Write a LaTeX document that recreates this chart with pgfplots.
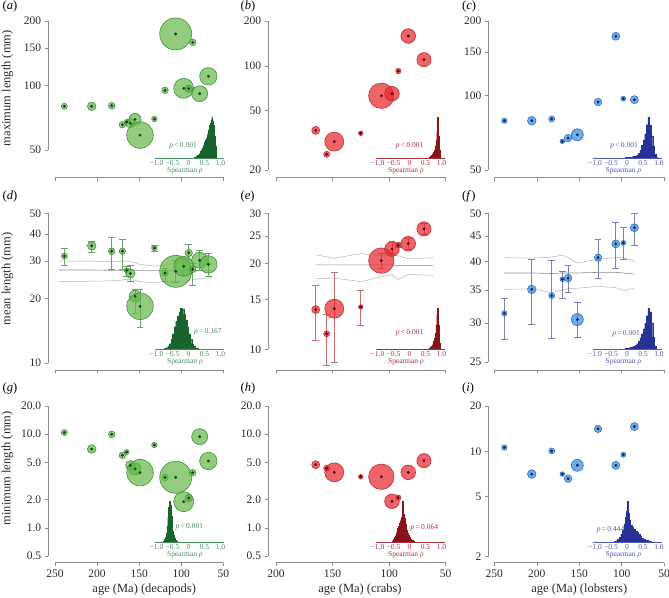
\documentclass[border=0pt]{standalone}
\usepackage{fontspec}
\setmainfont{Liberation Serif}
\usepackage{pgfplots}
\usepackage{pgfplotstable}
\pgfplotsset{compat=1.18}

\definecolor{axgray}{RGB}{140,140,140}
\definecolor{ticktext}{RGB}{40,40,40}
\definecolor{gfill}{RGB}{98,184,69}
\definecolor{gline}{RGB}{70,140,70}
\definecolor{gdot}{RGB}{15,70,25}
\definecolor{ghist}{RGB}{25,100,45}
\definecolor{gtext}{RGB}{70,140,90}
\definecolor{gbar}{RGB}{110,160,110}
\definecolor{rfill}{RGB}{231,34,41}
\definecolor{rline}{RGB}{190,45,55}
\definecolor{rdot}{RGB}{100,0,10}
\definecolor{rhist}{RGB}{135,20,25}
\definecolor{rtext}{RGB}{170,50,60}
\definecolor{rbar}{RGB}{200,110,110}
\definecolor{bfill}{RGB}{48,141,219}
\definecolor{bline}{RGB}{50,110,190}
\definecolor{bdot}{RGB}{20,30,110}
\definecolor{bhist}{RGB}{40,50,150}
\definecolor{btext}{RGB}{80,90,175}
\definecolor{bbar}{RGB}{120,130,180}
\definecolor{nullu}{RGB}{180,180,180}
\definecolor{nullm}{RGB}{140,140,140}

\newcommand{\tickfont}{\fontsize{11.5}{12}\selectfont}
\newcommand{\labfont}{\fontsize{12.5}{14}\selectfont}
\newcommand{\insfont}{\fontsize{7.5}{8}\selectfont}

% ---------- data (lengths in mm, ages in Ma, r = bubble radius) ----------
\pgfplotstableread{
age v r
238.9 80.0 3.0
206.4 80.0 4.3
182.6 80.5 3.3
170.0 65.6 3.2
164.8 67.6 2.5
160.5 66.7 4.7
154.9 69.5 6.0
149.0 58.7 13.3
132.0 69.8 2.7
119.3 95.0 3.3
106.6 174 16.0
97.1 97.0 10.0
91.1 96.6 3.7
86.4 159 3.3
78.1 91.6 8.0
67.8 110.4 8.7
}\tA
\pgfplotstableread{
age v r
164.9 36.9 4.0
155.2 25.5 3.0
148.5 31.0 9.5
125.1 35.3 2.3
106.9 63.0 12.7
97.5 65.0 7.3
91.9 92.3 2.7
83.1 158.6 7.3
69.2 110 7.1
}\tB
\pgfplotstableread{
age v r
238.2 79.1 2.7
205.9 79.1 4.3
182.4 80.4 3.0
169.9 65.3 2.3
163.1 67.3 3.8
152.2 69.4 6.0
127.8 94.1 3.7
106.9 173.5 4.0
98.0 97.1 2.5
85.0 96.2 4.0
}\tC
\pgfplotstableread{
age v lo hi r
238.9 31.6 28.6 34.3 3.0
206.4 35.3 33.0 37.2 4.3
182.6 33.3 27.4 38.9 3.3
170.0 33.3 27.4 37.9 3.2
164.8 27.1 25.3 28.3 2.5
160.5 26.2 24.2 28.5 4.7
154.9 20.5 17.0 22.0 6.0
149.0 18.4 14.6 22.2 13.3
132.0 34.5 33.4 35.6 2.7
119.3 26.3 24.1 27.6 3.3
106.6 26.8 23.9 30.2 16.0
97.1 28.3 25.6 30.7 10.0
91.1 32.7 30.2 35.7 3.7
86.4 27.4 23.1 29.2 3.3
78.1 30.2 27.2 33.5 8.0
67.8 28.9 25.5 32.4 8.7
}\tD
\pgfplotstableread{
age v lo hi r
164.9 13.8 10.8 16.8 4.0
155.2 11.35 8.8 13.3 3.0
148.5 13.9 9.05 18.7 9.5
125.1 14.1 12.2 16.1 2.3
106.9 20.5 19.3 21.7 12.7
97.5 22.5 21.8 23.9 7.3
91.9 23.2 22.8 23.7 2.7
83.1 23.5 22.4 24.5 7.3
69.2 26.5 25.3 27.7 7.1
}\tE
\pgfplotstableread{
age v lo hi r
238.2 31.4 27.8 33.6 2.7
205.9 35.1 29.9 40.3 4.3
182.4 34.1 27.9 40.2 3.0
169.9 36.8 33.6 38.2 2.3
163.1 37.0 34.7 39.2 3.8
152.2 30.5 28.1 33.0 6.0
127.8 40.7 36.9 44.4 3.7
106.9 43.4 38.8 48.1 4.0
98.0 43.6 40.3 46.9 2.5
85.0 46.8 43.2 50.1 4.0
}\tF
\pgfplotstableread{
age v r
238.9 10.4 3.0
206.4 6.94 4.3
182.6 9.96 3.3
170.0 5.94 3.2
164.8 6.45 2.5
160.5 4.65 4.7
154.9 4.25 6.0
149.0 3.88 13.3
132.0 7.66 2.7
119.3 3.46 3.3
106.6 3.46 16.0
97.1 1.90 10.0
91.1 2.08 3.7
86.4 3.88 3.3
78.1 9.4 8.0
67.8 5.17 8.7
}\tG
\pgfplotstableread{
age v r
164.9 4.72 4.0
155.2 4.32 3.0
148.5 3.91 9.5
125.1 3.51 2.3
106.9 3.51 12.7
97.5 1.92 7.3
91.9 2.10 2.7
83.1 3.91 7.3
69.2 5.21 7.1
}\tH
\pgfplotstableread{
age v r
238.2 10.6 2.7
205.9 7.07 4.3
182.4 10.06 3.0
169.9 7.07 2.3
163.1 6.59 3.8
152.2 8.08 6.0
127.8 14.1 3.7
106.9 8.08 4.0
98.0 9.5 2.5
85.0 14.6 4.0
}\tI
% null-model lines (upper, median, lower)
\pgfplotstableread{
age u m l
245 30.0 27.2 24.0
206.4 29.9 27.2 24.1
182.6 29.8 27.1 24.2
170 29.8 27.1 24.4
164.8 30.0 27.1 24.6
155 29.5 27.1 24.3
149 28.9 27.1 24.0
132 28.4 27.1 23.7
119.3 28.6 27.1 24.0
106.6 29.2 27.1 24.0
97.1 29.7 27.1 24.0
86.4 29.2 27.1 24.5
78.1 29.3 27.0 24.8
63 29.2 27.0 25.1
}\nD
\pgfplotstableread{
age u m l
164.9 21.5 19.8 17.7
148.5 20.9 19.8 17.8
125.1 21.7 19.8 17.3
106.9 21.3 19.8 18.0
97.5 21.6 19.8 18.3
91.9 21.3 19.7 17.6
83.1 20.8 19.7 18.35
61 21.0 19.7 18.2
}\nE
\pgfplotstableread{
age u m l
238.2 40.7 37.9 35.1
205.9 40.6 37.9 35.2
182.4 40.8 37.8 34.6
169.9 41.2 37.9 35.0
163.1 40.7 37.9 35.2
152.2 39.7 37.9 35.3
127.8 40.4 38.0 35.6
106.9 40.7 38.0 35.4
98.0 40.7 37.9 34.9
85.0 40.1 37.7 35.3
}\nF
% histograms of Spearman rho (relative heights)
\pgfplotstableread{
x h
0.175 0.02
0.2 0.03
0.225 0.04
0.25 0.05
0.275 0.07
0.3 0.09
0.325 0.11
0.35 0.14
0.375 0.17
0.4 0.21
0.425 0.25
0.45 0.30
0.475 0.34
0.5 0.40
0.525 0.45
0.55 0.50
0.575 0.56
0.6 0.62
0.625 0.70
0.65 0.80
0.675 0.86
0.7 0.93
0.725 1.00
0.75 0.92
0.775 0.80
0.8 0.55
0.825 0.30
0.85 0.10
0.875 0
}\hA
\pgfplotstableread{
x h
0.6 0.02
0.625 0.03
0.65 0.05
0.675 0.07
0.7 0.10
0.725 0.12
0.75 0.15
0.775 0.20
0.8 0.30
0.825 0.45
0.85 0.65
0.875 1.00
0.9 0.55
0.925 0.20
0.95 0
}\hB
\pgfplotstableread{
x h
-0.05 0.02
0.0 0.02
0.05 0.03
0.1 0.03
0.15 0.04
0.2 0.05
0.25 0.06
0.3 0.08
0.35 0.12
0.4 0.20
0.45 0.32
0.5 0.45
0.55 0.60
0.6 0.82
0.65 1.00
0.7 0.80
0.75 0.55
0.8 0.30
0.85 0.10
0.9 0.02
0.95 0
}\hC
\pgfplotstableread{
x h
-0.75 0.02
-0.7 0.04
-0.65 0.08
-0.6 0.14
-0.55 0.24
-0.5 0.38
-0.45 0.55
-0.4 0.68
-0.35 0.80
-0.3 0.90
-0.25 1.00
-0.2 0.97
-0.15 0.85
-0.1 0.72
-0.05 0.55
0.0 0.38
0.05 0.24
0.1 0.14
0.15 0.08
0.2 0.04
0.25 0.02
0.3 0
}\hD
\pgfplotstableread{
x h
0.6 0.03
0.625 0.04
0.65 0.06
0.675 0.08
0.7 0.10
0.725 0.14
0.75 0.20
0.775 0.28
0.8 0.40
0.825 0.60
0.85 0.85
0.875 1.00
0.9 0.60
0.925 0.15
0.95 0
}\hE
\pgfplotstableread{
x h
-0.1 0.01
-0.05 0.02
0.0 0.03
0.05 0.04
0.1 0.05
0.15 0.06
0.2 0.08
0.25 0.10
0.3 0.14
0.35 0.20
0.4 0.28
0.45 0.38
0.5 0.50
0.55 0.64
0.6 0.82
0.65 1.00
0.7 0.92
0.75 0.65
0.8 0.30
0.85 0.08
0.9 0
}\hF
\pgfplotstableread{
x h
-0.8 0.02
-0.775 0.04
-0.75 0.07
-0.725 0.12
-0.7 0.22
-0.675 0.40
-0.65 0.62
-0.625 0.85
-0.6 1.00
-0.575 0.90
-0.55 0.65
-0.525 0.42
-0.5 0.28
-0.475 0.18
-0.45 0.10
-0.425 0.06
-0.4 0.03
-0.375 0.02
-0.35 0
}\hG
\pgfplotstableread{
x h
-0.55 0.03
-0.525 0.05
-0.5 0.08
-0.475 0.12
-0.45 0.16
-0.425 0.22
-0.4 0.28
-0.375 0.34
-0.35 0.40
-0.325 0.46
-0.3 0.52
-0.275 0.56
-0.25 0.62
-0.225 1.00
-0.2 0.70
-0.175 0.55
-0.15 0.58
-0.125 0.45
-0.1 0.30
-0.075 0.22
-0.05 0.18
-0.025 0.14
0 0.12
0.025 0.08
0.05 0.06
0.075 0.05
0.1 0.03
0.125 0.02
0.15 0.01
0.175 0
}\hH
\pgfplotstableread{
x h
-0.4 0.02
-0.35 0.04
-0.3 0.07
-0.25 0.12
-0.2 0.20
-0.15 0.30
-0.1 0.45
-0.05 0.62
-0.025 0.75
0 1.00
0.025 0.72
0.05 0.55
0.1 0.42
0.15 0.38
0.2 0.33
0.25 0.28
0.3 0.24
0.35 0.20
0.4 0.15
0.45 0.10
0.5 0.08
0.55 0.06
0.6 0.05
0.65 0.03
0.7 0.02
0.75 0
}\hI

\pgfplotsset{
  mainax/.style={scale only axis, height=156.5pt, anchor=south west,
    axis line style={draw=none}, tick align=outside, tick pos=left,
    major tick length=3.5pt, tick style={axgray, line width=0.5pt},
    clip=false,
    tick label style={font=\tickfont, text=ticktext},
    xticklabels={}},
  c1/.style={width=181.8pt, xmin=-258, xmax=-42, xtick={-250,-200,-150,-100,-50}},
  c2/.style={width=185.5pt, xmin=-207, xmax=-43, xtick={-200,-150,-100,-50}},
  c3/.style={width=181.6pt, xmin=-257, xmax=-43, xtick={-250,-200,-150,-100,-50}},
  bub/.style 2 args={scatter, only marks, mark=*, point meta={\thisrow{r}},
    scatter/use mapped color={draw=#2, fill=#1},
    visualization depends on={\thisrow{r} \as \bubr},
    scatter/@pre marker code/.append style={/tikz/mark size=\bubr},
    mark options={fill opacity=0.7, line width=0.6pt}},
  dot/.style={only marks, mark=*, mark size=1.25pt, color=#1},
  ebar/.style={only marks, mark=*, mark size=0pt, mark options={draw=none, fill=none},
    error bars/.cd, y dir=both, y explicit,
    error bar style={draw=#1, line width=0.6pt},
    error mark options={rotate=90, draw=#1, mark size=3.4pt, line width=0.6pt}},
  inset/.style={scale only axis, width=68.16pt, height=41pt, xmin=-1.05, xmax=1.08,
    ymin=0, ymax=1, anchor=south west, axis line style={draw=none}, ytick=\empty,
    xtick={-1,-0.5,0,0.5,1}, xticklabels={−1.0,−0.5,0,0.5,1.0},
    major tick length=0pt, tick pos=left, tick style={draw=none},
    tick label style={font=\insfont}, xticklabel style={inner sep=2pt, text=#1},
    xlabel={Spearman \textit{ρ}},
    xlabel style={font=\insfont, text=#1, at={(axis description cs:0.44,0)}, anchor=center, yshift=-13pt},
    clip=false},
}
\newcommand{\xframe}[2]{\draw[axgray, line width=0.5pt] ({axis cs:#1,1}|-{rel axis cs:0,0}) -- ({axis cs:#2,1}|-{rel axis cs:0,0});}
\newcommand{\yframe}[2]{\draw[axgray, line width=0.5pt] ({rel axis cs:0,0}|-{axis cs:-100,#1}) -- ({rel axis cs:0,0}|-{axis cs:-100,#2});}
\newcommand{\inax}[5]{%
\begin{axis}[inset=#3, at={(#1pt,#2pt)}]
\addplot[ybar interval, fill=#4, draw=#4, line width=0.1pt] table[x=x, y=h] {#5};
\draw[#3, line width=0.5pt] (axis cs:-1.05,0) -- (axis cs:1.1,0);
\end{axis}}

\begin{document}
\begin{tikzpicture}
% ===== Row 1 (log10 scale) =====
\begin{axis}[mainax, c1, at={(48.27pt,419.5pt)}, ymin=1.57078, ymax=2.30103,
  ytick={1.69897,2,2.176091,2.30103}, yticklabels={50,100,150,200}]
\xframe{-250}{-50}\yframe{1.69897}{2.30103}
\addplot[bub={gfill}{gline}] table[x expr=-\thisrow{age}, y expr=log10(\thisrow{v})] {\tA};
\addplot[dot=gdot] table[x expr=-\thisrow{age}, y expr=log10(\thisrow{v})] {\tA};
\end{axis}
\begin{axis}[mainax, c2, at={(268.1pt,419.5pt)}, ymin=1.25066, ymax=2.30103,
  ytick={1.30103,1.69897,2,2.30103}, yticklabels={20,50,100,200}]
\xframe{-200}{-50}\yframe{1.30103}{2.30103}
\addplot[bub={rfill}{rline}] table[x expr=-\thisrow{age}, y expr=log10(\thisrow{v})] {\tB};
\addplot[dot=rdot] table[x expr=-\thisrow{age}, y expr=log10(\thisrow{v})] {\tB};
\end{axis}
\begin{axis}[mainax, c3, at={(488.4pt,419.5pt)}, ymin=1.66876, ymax=2.30103,
  ytick={1.69897,2,2.176091,2.30103}, yticklabels={50,100,150,200}]
\xframe{-250}{-50}\yframe{1.69897}{2.30103}
\addplot[bub={bfill}{bline}] table[x expr=-\thisrow{age}, y expr=log10(\thisrow{v})] {\tC};
\addplot[dot=bdot] table[x expr=-\thisrow{age}, y expr=log10(\thisrow{v})] {\tC};
\end{axis}
% ===== Row 2 =====
\begin{axis}[mainax, c1, at={(48.27pt,227pt)}, ymin=0.96661, ymax=1.69897,
  ytick={1,1.30103,1.477121,1.60206,1.69897}, yticklabels={10,20,30,40,50}]
\xframe{-250}{-50}\yframe{1}{1.69897}
\addplot[color=nullu, line width=0.5pt] table[x expr=-\thisrow{age}, y expr=log10(\thisrow{u})] {\nD};
\addplot[color=nullm, line width=0.6pt] table[x expr=-\thisrow{age}, y expr=log10(\thisrow{m})] {\nD};
\addplot[color=nullu, line width=0.5pt] table[x expr=-\thisrow{age}, y expr=log10(\thisrow{l})] {\nD};
\addplot[bub={gfill}{gline}] table[x expr=-\thisrow{age}, y expr=log10(\thisrow{v})] {\tD};
\addplot[ebar=gbar] table[x expr=-\thisrow{age}, y expr=log10(\thisrow{v}),
  y error plus expr=log10(\thisrow{hi})-log10(\thisrow{v}),
  y error minus expr=log10(\thisrow{v})-log10(\thisrow{lo})] {\tD};
\addplot[dot=gdot] table[x expr=-\thisrow{age}, y expr=log10(\thisrow{v})] {\tD};
\end{axis}
\begin{axis}[mainax, c2, at={(268.1pt,227pt)}, ymin=0.92788, ymax=1.477121,
  ytick={1,1.176091,1.30103,1.39794,1.477121}, yticklabels={10,15,20,25,30}]
\xframe{-200}{-50}\yframe{1}{1.477121}
\addplot[color=nullu, line width=0.5pt] table[x expr=-\thisrow{age}, y expr=log10(\thisrow{u})] {\nE};
\addplot[color=nullm, line width=0.6pt] table[x expr=-\thisrow{age}, y expr=log10(\thisrow{m})] {\nE};
\addplot[color=nullu, line width=0.5pt] table[x expr=-\thisrow{age}, y expr=log10(\thisrow{l})] {\nE};
\addplot[bub={rfill}{rline}] table[x expr=-\thisrow{age}, y expr=log10(\thisrow{v})] {\tE};
\addplot[ebar=rbar] table[x expr=-\thisrow{age}, y expr=log10(\thisrow{v}),
  y error plus expr=log10(\thisrow{hi})-log10(\thisrow{v}),
  y error minus expr=log10(\thisrow{v})-log10(\thisrow{lo})] {\tE};
\addplot[dot=rdot] table[x expr=-\thisrow{age}, y expr=log10(\thisrow{v})] {\tE};
\end{axis}
\begin{axis}[mainax, c3, at={(488.4pt,227pt)}, ymin=1.38219, ymax=1.69897,
  ytick={1.39794,1.477121,1.544068,1.60206,1.653213,1.69897}, yticklabels={25,30,35,40,45,50}]
\xframe{-250}{-50}\yframe{1.39794}{1.69897}
\addplot[color=nullu, line width=0.5pt] table[x expr=-\thisrow{age}, y expr=log10(\thisrow{u})] {\nF};
\addplot[color=nullm, line width=0.6pt] table[x expr=-\thisrow{age}, y expr=log10(\thisrow{m})] {\nF};
\addplot[color=nullu, line width=0.5pt] table[x expr=-\thisrow{age}, y expr=log10(\thisrow{l})] {\nF};
\addplot[bub={bfill}{bline}] table[x expr=-\thisrow{age}, y expr=log10(\thisrow{v})] {\tF};
\addplot[ebar=bbar] table[x expr=-\thisrow{age}, y expr=log10(\thisrow{v}),
  y error plus expr=log10(\thisrow{hi})-log10(\thisrow{v}),
  y error minus expr=log10(\thisrow{v})-log10(\thisrow{lo})] {\tF};
\addplot[dot=bdot] table[x expr=-\thisrow{age}, y expr=log10(\thisrow{v})] {\tF};
\end{axis}
% ===== Row 3 =====
\begin{axis}[mainax, c1, at={(48.27pt,34.5pt)}, ymin=-0.37102, ymax=1.30103,
  ytick={-0.30103,0,0.30103,0.69897,1,1.30103}, yticklabels={0.5,1.0,2.0,5.0,10.0,20.0},
  xticklabels={250,200,150,100,50}]
\xframe{-250}{-50}\yframe{-0.30103}{1.30103}
\addplot[bub={gfill}{gline}] table[x expr=-\thisrow{age}, y expr=log10(\thisrow{v})] {\tG};
\addplot[dot=gdot] table[x expr=-\thisrow{age}, y expr=log10(\thisrow{v})] {\tG};
\end{axis}
\begin{axis}[mainax, c2, at={(268.1pt,34.5pt)}, ymin=-0.37102, ymax=1.30103,
  ytick={-0.30103,0,0.30103,0.69897,1,1.30103}, yticklabels={0.5,1.0,2.0,5.0,10.0,20.0},
  xticklabels={200,150,100,50}]
\xframe{-200}{-50}\yframe{-0.30103}{1.30103}
\addplot[bub={rfill}{rline}] table[x expr=-\thisrow{age}, y expr=log10(\thisrow{v})] {\tH};
\addplot[dot=rdot] table[x expr=-\thisrow{age}, y expr=log10(\thisrow{v})] {\tH};
\end{axis}
\begin{axis}[mainax, c3, at={(488.4pt,34.5pt)}, ymin=0.26245, ymax=1.30103,
  ytick={0.30103,0.69897,1,1.30103}, yticklabels={2,5,10,20},
  xticklabels={250,200,150,100,50}]
\xframe{-250}{-50}\yframe{0.30103}{1.30103}
\addplot[bub={bfill}{bline}] table[x expr=-\thisrow{age}, y expr=log10(\thisrow{v})] {\tI};
\addplot[dot=bdot] table[x expr=-\thisrow{age}, y expr=log10(\thisrow{v})] {\tI};
\end{axis}
% ===== insets =====
\inax{154.9}{438.7}{gtext}{ghist}{\hA}
\inax{375.9}{438.7}{rtext}{rhist}{\hB}
\inax{593.4}{438.7}{btext}{bhist}{\hC}
\inax{154.9}{247.7}{gtext}{ghist}{\hD}
\inax{375.9}{247.7}{rtext}{rhist}{\hE}
\inax{593.4}{247.7}{btext}{bhist}{\hF}
\inax{154.9}{54.7}{gtext}{ghist}{\hG}
\inax{375.9}{54.7}{rtext}{rhist}{\hH}
\inax{593.4}{54.7}{btext}{bhist}{\hI}
% p values
\node[anchor=east, font=\insfont, text=gtext, inner sep=0pt] at (197pt,451.5pt) {\textit{p}\,<\,0.001};
\node[anchor=east, font=\insfont, text=rtext, inner sep=0pt] at (423.5pt,451.5pt) {\textit{p}\,<\,0.001};
\node[anchor=east, font=\insfont, text=btext, inner sep=0pt] at (638pt,451pt) {\textit{p}\,<\,0.001};
\node[anchor=west, font=\insfont, text=gtext, inner sep=0pt] at (194pt,264.7pt) {\textit{p}\,=\,0.167};
\node[anchor=east, font=\insfont, text=rtext, inner sep=0pt] at (423.5pt,263.7pt) {\textit{p}\,<\,0.001};
\node[anchor=east, font=\insfont, text=btext, inner sep=0pt] at (640pt,262.7pt) {\textit{p}\,=\,0.001};
\node[anchor=west, font=\insfont, text=gtext, inner sep=0pt] at (175.5pt,70.3pt) {\textit{p}\,<\,0.001};
\node[anchor=west, font=\insfont, text=rtext, inner sep=0pt] at (410.5pt,68.7pt) {\textit{p}\,=\,0.064};
\node[anchor=east, font=\insfont, text=btext, inner sep=0pt] at (624.5pt,67pt) {\textit{p}\,=\,0.444};
% panel letters
\node[anchor=west, font=\labfont, inner sep=0pt] at (2.5pt,590pt) {(\textit{a})};
\node[anchor=west, font=\labfont, inner sep=0pt] at (240.5pt,590pt) {(\textit{b})};
\node[anchor=west, font=\labfont, inner sep=0pt] at (462pt,590pt) {(\textit{c})};
\node[anchor=west, font=\labfont, inner sep=0pt] at (2.5pt,401pt) {(\textit{d})};
\node[anchor=west, font=\labfont, inner sep=0pt] at (240.5pt,401pt) {(\textit{e})};
\node[anchor=west, font=\labfont, inner sep=0pt] at (462pt,401pt) {(\textit{f})};
\node[anchor=west, font=\labfont, inner sep=0pt] at (2.5pt,209pt) {(\textit{g})};
\node[anchor=west, font=\labfont, inner sep=0pt] at (240.5pt,209pt) {(\textit{h})};
\node[anchor=west, font=\labfont, inner sep=0pt] at (462pt,209pt) {(\textit{i})};
% axis titles
\node[rotate=90, font=\labfont, text=ticktext] at (7.5pt,508.7pt) {maximum length (mm)};
\node[rotate=90, font=\labfont, text=ticktext] at (7.5pt,318pt) {mean length (mm)};
\node[rotate=90, font=\labfont, text=ticktext] at (7.5pt,128.7pt) {minimum length (mm)};
\node[font=\labfont, text=ticktext] at (144.2pt,7.5pt) {age (Ma) (decapods)};
\node[font=\labfont, text=ticktext] at (360pt,7.5pt) {age (Ma) (crabs)};
\node[font=\labfont, text=ticktext] at (579.3pt,7.5pt) {age (Ma) (lobsters)};
\pgfresetboundingbox
\useasboundingbox (0pt,0pt) rectangle (669pt,597pt);
\end{tikzpicture}
\end{document}
